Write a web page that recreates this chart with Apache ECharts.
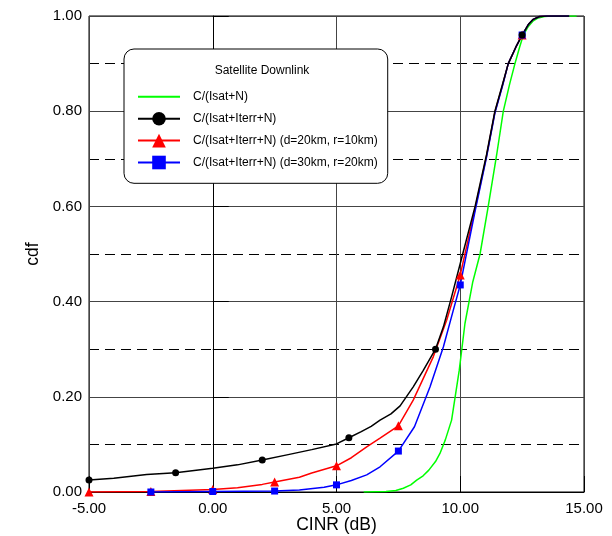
<!DOCTYPE html>
<html>
<head>
<meta charset="utf-8">
<script src="https://cdn.jsdelivr.net/npm/echarts@6/dist/echarts.min.js"></script>
<style>html,body{margin:0;padding:0;background:#fff}#c{width:612px;height:536px}</style>
</head>
<body>
<div id="c"></div>
<script>
const xTicks = [-5, 0, 5, 10, 15];
const seriesNames = ['C/(Isat+N)', 'C/(Isat+Iterr+N)', 'C/(Isat+Iterr+N) (d=20km, r=10km)', 'C/(Isat+Iterr+N) (d=30km, r=20km)'];

const greenX = [6.1, 7.0, 7.4, 7.7, 8.0, 8.24, 8.5, 8.73, 9.0, 9.18, 9.4, 9.65, 9.96, 10.19, 10.5, 10.8, 11.13, 11.47, 11.74, 12.0, 12.21, 12.4, 12.55, 12.75, 12.95, 13.15, 13.4, 13.7, 14.7];
const greenY = [0.0, 0.001, 0.003, 0.008, 0.015, 0.025, 0.034, 0.046, 0.064, 0.081, 0.11, 0.151, 0.256, 0.354, 0.44, 0.50, 0.60, 0.708, 0.80, 0.858, 0.90, 0.935, 0.96, 0.978, 0.99, 0.996, 0.999, 1.0, 1.0];

const blackX = [-5, -4, -2.67, -1.5, 0, 1, 2, 3, 4, 5, 5.5, 6, 6.4, 6.76, 7.2, 7.57, 8.1, 8.5, 9, 9.32, 9.65, 10, 10.6, 11.06, 11.4, 11.7, 11.94, 12.25, 12.5, 12.75, 12.95, 13.2, 13.5, 14.4];
const blackY = [0.025, 0.029, 0.037, 0.0405, 0.05, 0.057, 0.067, 0.078, 0.089, 0.101, 0.114, 0.127, 0.138, 0.151, 0.164, 0.181, 0.221, 0.255, 0.30, 0.347, 0.41, 0.48, 0.60, 0.708, 0.80, 0.855, 0.90, 0.935, 0.96, 0.982, 0.993, 0.999, 1.0, 1.0];
const blackMarks = [-5, -1.5, 2, 5.5, 9, 12.5];

const redX = [-5, -2.5, 0, 1, 2, 2.5, 3.5, 4, 5, 5.6, 6.22, 6.76, 7.5, 8.1, 8.91, 9.45, 10, 10.6, 11.06, 11.4, 11.7, 11.94, 12.25, 12.5, 12.75, 12.95, 13.2, 13.5, 14.4];
const redY = [0.0, 0.001, 0.005, 0.009, 0.016, 0.021, 0.031, 0.04, 0.055, 0.072, 0.095, 0.113, 0.139, 0.193, 0.284, 0.361, 0.456, 0.595, 0.705, 0.798, 0.853, 0.90, 0.935, 0.96, 0.982, 0.993, 0.999, 1.0, 1.0];
const redMarks = [-5, -2.5, 0, 2.5, 5, 7.5, 10, 12.5];

const blueX = [-2.5, 0, 2.5, 3.5, 4.5, 5, 5.6, 6.22, 6.76, 7.5, 8.15, 8.78, 9.32, 9.72, 10, 10.6, 11.06, 11.4, 11.7, 11.94, 12.25, 12.5, 12.75, 12.95, 13.2, 13.5, 14.4];
const blueY = [0.0, 0.001, 0.002, 0.004, 0.01, 0.015, 0.024, 0.036, 0.053, 0.086, 0.137, 0.221, 0.305, 0.382, 0.435, 0.59, 0.703, 0.796, 0.852, 0.90, 0.935, 0.96, 0.982, 0.993, 0.999, 1.0, 1.0];
const blueMarks = [-2.5, 0, 2.5, 5, 7.5, 10, 12.5];

function build(xs, ys, marks) {
  return xs.map((x, i) => {
    const item = { value: [x, ys[i]] };
    if (!marks || marks.indexOf(x) < 0) item.symbol = 'none';
    return item;
  });
}

const FONT = '"Liberation Sans", Arial, sans-serif';
const chart = echarts.init(document.getElementById('c'), null, { renderer: 'canvas' });

function lineSeries(name, color, data, symbol, size) {
  return {
    name: name, type: 'line', data: data,
    smooth: false,
    symbol: symbol, symbolSize: size, showSymbol: symbol !== 'none',
    lineStyle: { color: color, width: 1.5 },
    itemStyle: { color: color },
    animation: false
  };
}

chart.setOption({
  animation: false,
  title: {
    text: 'Satellite Downlink', left: 257, top: 60, textAlign: 'center',
    textStyle: { fontFamily: FONT, fontSize: 12, fontWeight: 'normal', color: '#000' }
  },
  grid: { left: 89, right: 28, top: 16, bottom: 44, containLabel: false, outerBoundsMode: 'none',
    show: true, borderColor: '#000', borderWidth: 1, backgroundColor: 'transparent' },
  xAxis: {
    type: 'value', min: -5, max: 15, interval: 5,
    name: 'CINR (dB)', nameLocation: 'middle', nameGap: 24, nameMoveOverlap: false,
    nameTextStyle: { fontFamily: FONT, fontSize: 17.5, color: '#000' },
    axisLine: { show: true, lineStyle: { color: '#000', width: 1 } },
    axisTick: { show: true, inside: true, length: 16, lineStyle: { color: '#000' } },
    axisLabel: { margin: 9, fontFamily: FONT, fontSize: 15, color: '#000', formatter: v => v.toFixed(2) },
    splitLine: { show: true, lineStyle: { color: '#444', width: 1 } }
  },
  yAxis: {
    type: 'value', min: 0, max: 1, interval: 0.2,
    name: 'cdf', nameLocation: 'middle', nameGap: 47, nameRotate: 90, nameMoveOverlap: false,
    nameTextStyle: { fontFamily: FONT, fontSize: 17.5, color: '#000' },
    axisLine: { show: true, lineStyle: { color: '#000', width: 1 } },
    axisTick: { show: true, inside: true, length: 16, lineStyle: { color: '#000' } },
    minorTick: { show: true, splitNumber: 2, length: 8, lineStyle: { color: '#000' } },
    axisLabel: { margin: 7, fontFamily: FONT, fontSize: 15, color: '#000', formatter: v => v.toFixed(2) },
    splitLine: { show: true, lineStyle: { color: '#444', width: 1 } },
    minorSplitLine: { show: true, lineStyle: { color: '#000', width: 1, type: [10, 6] } }
  },
  legend: {
    orient: 'vertical', left: 124, top: 49,
    data: [
      { name: seriesNames[0], itemStyle: { color: 'rgba(0,0,0,0)', borderWidth: 0, opacity: 0 } },
      seriesNames[1], seriesNames[2], seriesNames[3]
    ],
    backgroundColor: '#fff', borderColor: '#000', borderWidth: 1, borderRadius: 10,
    padding: [41, 10, 14, 13],
    itemWidth: 42, itemHeight: 17, itemGap: 8.3,
    textStyle: { fontFamily: FONT, fontSize: 12, color: '#000', padding: [0, 0, 0, 8] }
  },
  series: [
    lineSeries(seriesNames[0], '#00ff00', build(greenX, greenY, null), 'none', 0),
    lineSeries(seriesNames[2], '#ff0000', build(redX, redY, redMarks), 'triangle', 9),
    lineSeries(seriesNames[3], '#0000ff', build(blueX, blueY, blueMarks), 'rect', 7),
    lineSeries(seriesNames[1], '#000000', build(blackX, blackY, blackMarks), 'circle', 7)
  ]
});
</script>
</body>
</html>
